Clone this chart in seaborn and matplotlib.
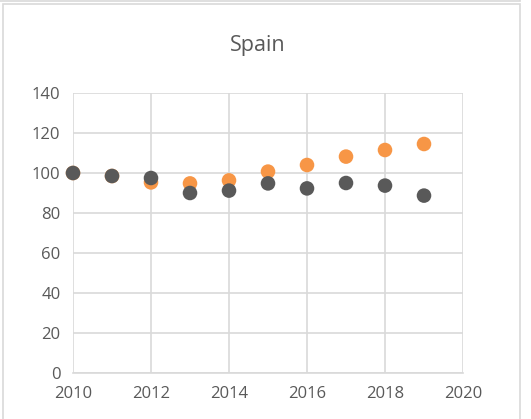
import matplotlib

matplotlib.use('Agg')
import matplotlib.pyplot as plt
import seaborn as sns
import pandas as pd
from matplotlib.patches import Rectangle

# data
years = [2010, 2011, 2012, 2013, 2014, 2015, 2016, 2017, 2018, 2019]
series_orange = [100, 98.5, 95.3, 94.8, 96.3, 100.7, 104, 108.2, 111.5, 114.5]
series_dark = [100, 98.5, 97.5, 90, 91.2, 94.8, 92.3, 95, 93.7, 88.7]
x_ticks = [2010, 2012, 2014, 2016, 2018, 2020]
y_ticks = [0, 20, 40, 60, 80, 100, 120, 140]

df = pd.DataFrame({
    'year': years * 2,
    'value': series_orange + series_dark,
    'series': ['orange'] * len(years) + ['dark'] * len(years),
})

sns.set_theme(style='white')
plt.rcParams['font.family'] = ['Open Sans', 'DejaVu Sans']

fig = plt.figure(figsize=(5.31, 4.19), dpi=100)
ax = fig.add_axes([73 / 531, 1 - 373 / 419, 390 / 531, 280 / 419])

sns.scatterplot(data=df, x='year', y='value', hue='series',
                palette={'orange': '#F79646', 'dark': '#595959'},
                s=110, edgecolor='none', legend=False, ax=ax, zorder=3)

ax.set_xlim(2010, 2020)
ax.set_ylim(0, 140)
ax.set_xticks(x_ticks)
ax.set_yticks(y_ticks)
ax.grid(True, color='#D9D9D9', linewidth=1.2)
ax.set_axisbelow(True)
for side in ['top', 'right', 'left']:
    ax.spines[side].set_visible(False)
ax.spines['bottom'].set_color('#D9D9D9')
ax.spines['bottom'].set_linewidth(1.2)
ax.tick_params(axis='both', colors='#595959', labelsize=12, length=0, pad=9)
ax.set_xlabel('')
ax.set_ylabel('')
for c in ax.collections:
    c.set_clip_on(False)

fig.text(258 / 531, 1 - 45 / 419, 'Spain', ha='center', va='center',
         fontsize=15.5, color='#595959')

# chart frame
fig.patches.append(Rectangle((3 / 531, -0.05), 517 / 531, 1.05 - 4 / 419,
                             transform=fig.transFigure, fill=False,
                             edgecolor='#D9D9D9', linewidth=1.2))
fig.patches.append(Rectangle((-0.05, 1 - 1 / 419), 0.05 + 520 / 531, 0.1,
                             transform=fig.transFigure, fill=False,
                             edgecolor='#D9D9D9', linewidth=1.2))

plt.savefig('out.png', dpi=100)
plt.close(fig)
